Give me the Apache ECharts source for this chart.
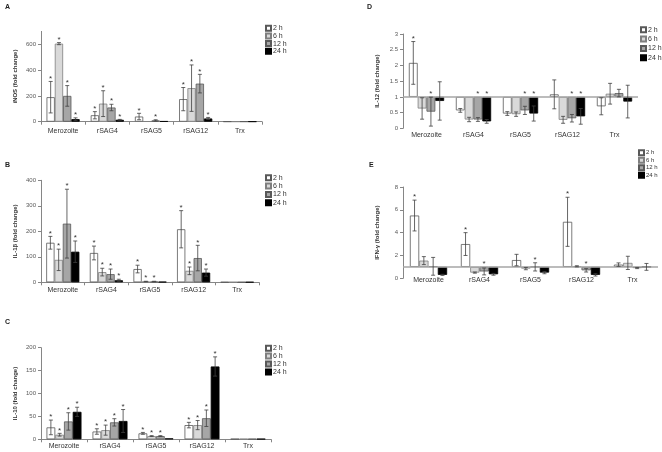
<!DOCTYPE html>
<html><head><meta charset="utf-8">
<script src="https://cdn.jsdelivr.net/npm/echarts@6/dist/echarts.min.js"></script>
<style>html,body{margin:0;padding:0;background:#fff}#c{width:662px;height:452px}</style>
</head><body><div id="c"></div>
<script>
const categories = ['Merozoite', 'rSAG4', 'rSAG5', 'rSAG12', 'Trx'];
const timeLabels = ['2 h', '6 h', '12 h', '24 h'];

// A: iNOS  (rows: 2 h, 6 h, 12 h, 24 h; columns: categories)
const iNOS_mean = [[190, 50, 40, 175, 1], [605, 140, 3, 260, 1], [200, 110, 10, 295, 1], [20, 15, 4, 25, 1]];
const iNOS_sd   = [[122, 28, 25, 90, 0], [8, 100, 0, 180, 0], [80, 25, 5, 72, 0], [10, 3, 0, 8, 0]];
const iNOS_star = [[1, 1, 1, 1, 0], [1, 1, 0, 1, 0], [1, 1, 1, 1, 0], [1, 1, 0, 1, 0]];

// B: IL-1β
const IL1b_mean = [[155, 115, 52, 208, 1], [88, 40, 3, 45, 1], [230, 32, 3, 95, 1], [120, 8, 2, 38, 1]];
const IL1b_sd   = [[25, 27, 15, 73, 0], [42, 15, 1, 15, 0], [135, 20, 1, 50, 0], [42, 4, 0, 14, 0]];
const IL1b_star = [[1, 1, 1, 1, 0], [1, 1, 1, 1, 0], [1, 1, 1, 1, 0], [1, 1, 0, 1, 0]];

// C: IL-10
const IL10_mean = [[26, 17, 13, 31, 1], [10, 20, 7, 31, 1], [39, 37, 7, 46, 1], [60, 40, 2, 159, 1]];
const IL10_sd   = [[16, 6, 2, 6, 0], [3, 11, 1, 10, 0], [19, 8, 1, 18, 0], [10, 25, 0, 21, 0]];
const IL10_star = [[1, 1, 1, 1, 0], [1, 1, 1, 1, 0], [1, 1, 1, 1, 0], [1, 1, 0, 1, 0]];

// D: IL-12
const IL12_mean = [[2.08, 0.57, 0.47, 1.08, 0.70], [0.63, 0.28, 0.45, 0.27, 1.10], [0.53, 0.28, 0.57, 0.32, 1.12], [0.87, 0.22, 0.47, 0.38, 0.85]];
const IL12_sd   = [[0.68, 0.06, 0.06, 0.46, 0.27], [0.34, 0.07, 0.07, 0.11, 0.33], [0.46, 0.06, 0.13, 0.12, 0.12], [0.61, 0.06, 0.24, 0.25, 0.52]];
const IL12_star = [[1, 0, 0, 0, 0], [0, 0, 0, 0, 0], [1, 1, 1, 1, 0], [0, 1, 1, 1, 0]];

// E: IFN-γ
const IFNg_mean = [[5.5, 3.0, 1.6, 4.95, 1.2], [1.55, 0.5, 0.85, 1.05, 1.35], [1.05, 0.6, 1.0, 0.7, 0.9], [0.3, 0.35, 0.5, 0.3, 1.0]];
const IFNg_sd   = [[1.35, 1.0, 0.5, 2.15, 0.15], [0.35, 0.05, 0.1, 0.05, 0.58], [0.78, 0.3, 0.36, 0.15, 0.05], [0.05, 0.08, 0.1, 0.1, 0.3]];
const IFNg_star = [[1, 1, 0, 1, 0], [0, 0, 0, 0, 0], [0, 1, 1, 1, 0], [0, 0, 0, 0, 0]];

const FONT = 'Liberation Sans';
const barStyles = [
  {color: '#ffffff', borderColor: '#595959', borderWidth: 0.8},
  {color: '#d9d9d9', borderColor: '#7f7f7f', borderWidth: 0.8},
  {color: '#a6a6a6', borderColor: '#595959', borderWidth: 0.8},
  {color: '#000000', borderColor: '#000000', borderWidth: 0.8}
];

const panels = [
  {letter: 'A', lx: 5, ly: 4, title: 'iNOS (fold change)', mean: iNOS_mean, sd: iNOS_sd, star: iNOS_star, base: 0, max: 700, interval: 200, showMax: false,
   grid: {left: 41, top: 31.4, width: 221, height: 90.3}, gap: 0.25, catMargin: 5.5, leg: {left: 265, top: 24.7, gap: 0.7, lh: 6, fs: 7}},
  {letter: 'B', lx: 5, ly: 162, title: 'IL-1β (fold change)', mean: IL1b_mean, sd: IL1b_sd, star: IL1b_star, base: 0, max: 400, interval: 100, showMax: true,
   grid: {left: 41, top: 180.3, width: 218, height: 102}, gap: 0.24, catMargin: 4.5, leg: {left: 265, top: 174.3, gap: 1.3, lh: 6, fs: 7}},
  {letter: 'C', lx: 5, ly: 319, title: 'IL-10 (fold change)', mean: IL10_mean, sd: IL10_sd, star: IL10_star, base: 0, max: 200, interval: 50, showMax: true,
   grid: {left: 41, top: 347.7, width: 230, height: 91.6}, gap: 0.24, catMargin: 3.5, leg: {left: 265, top: 344.7, gap: 0.9, lh: 6, fs: 7}},
  {letter: 'D', lx: 367, ly: 4, title: 'IL-12 (fold change)', mean: IL12_mean, sd: IL12_sd, star: IL12_star, base: 1, max: 3, interval: 0.5, showMax: true,
   grid: {left: 403, top: 34, width: 235, height: 94.3}, gap: 0.25, catMargin: 3, leg: {left: 640, top: 26.3, gap: 2.3, lh: 6, fs: 7}},
  {letter: 'E', lx: 369, ly: 162, title: 'IFN-γ (fold change)', mean: IFNg_mean, sd: IFNg_sd, star: IFNg_star, base: 1, max: 8, interval: 2, showMax: true,
   grid: {left: 403, top: 187, width: 255, height: 91.3}, gap: 0.27, catMargin: -1.5, leg: {left: 638, top: 149.2, gap: 0.5, lh: 5, fs: 6}}
];

const grids = [], xAxes = [], yAxes = [], series = [], legends = [], graphics = [];
const axisColor = '#868686';

panels.forEach((p, pi) => {
  grids.push(Object.assign({containLabel: false}, p.grid));
  xAxes.push({
    type: 'category', gridIndex: pi, data: categories,
    axisLine: {show: p.base === 0, lineStyle: {color: axisColor, width: 1}},
    axisTick: {show: p.base === 0, length: 3, lineStyle: {color: axisColor}},
    axisLabel: {fontSize: 7, fontFamily: FONT, color: '#333', margin: p.catMargin, interval: 0},
    splitLine: {show: false}
  });
  yAxes.push({
    type: 'value', gridIndex: pi, min: 0, max: p.max, interval: p.interval,
    splitLine: {show: false},
    axisLine: {show: true, lineStyle: {color: axisColor, width: 1}},
    axisTick: {show: true, length: 3, lineStyle: {color: axisColor}},
    axisLabel: {fontSize: 6, fontFamily: FONT, color: '#595959', margin: 5, showMaxLabel: p.showMax},
    name: p.title, nameLocation: 'middle', nameRotate: 90, nameGap: 23,
    nameTextStyle: {fontSize: 6, fontFamily: FONT, fontWeight: 'bold', color: '#333'}
  });

  for (let t = 0; t < 4; t++) {
    if (p.base === 0) {
      series.push({
        type: 'bar', name: timeLabels[t], xAxisIndex: pi, yAxisIndex: pi,
        data: p.mean[t], itemStyle: barStyles[t],
        barGap: '0%', barCategoryGap: (p.gap * 100) + '%', silent: true
      });
    } else {
      series.push({
        type: 'bar', name: '_base' + pi + '_' + t, xAxisIndex: pi, yAxisIndex: pi, stack: p.letter + t,
        data: p.mean[t].map(v => Math.min(v, p.base)),
        itemStyle: {color: 'rgba(0,0,0,0)'},
        barGap: '0%', barCategoryGap: (p.gap * 100) + '%', silent: true
      });
      const s = {
        type: 'bar', name: timeLabels[t], xAxisIndex: pi, yAxisIndex: pi, stack: p.letter + t,
        data: p.mean[t].map(v => Math.abs(v - p.base)),
        itemStyle: barStyles[t],
        barGap: '0%', barCategoryGap: (p.gap * 100) + '%', silent: true
      };
      if (t === 0) {
        s.markLine = {silent: true, symbol: 'none', label: {show: false},
          lineStyle: {color: '#a6a6a6', width: 1.5, type: 'solid'}, data: [{yAxis: p.base}]};
      }
      series.push(s);
    }
  }

  const errData = [];
  const starData = [];
  for (let t = 0; t < 4; t++) {
    for (let c = 0; c < categories.length; c++) {
      const m = p.mean[t][c], sd = p.sd[t][c];
      if (sd > 0) errData.push([c, t, Math.max(0, m - sd), m + sd]);
      if (p.star[t][c]) starData.push([c, t, Math.max(m + sd, p.base)]);
    }
  }
  const gapFrac = p.gap;
  series.push({
    type: 'custom', xAxisIndex: pi, yAxisIndex: pi, silent: true, z: 5,
    data: errData, encode: {x: 0, y: [2, 3]},
    renderItem: function (params, api) {
      const c = api.value(0), t = api.value(1);
      const lo = api.coord([c, api.value(2)]);
      const hi = api.coord([c, api.value(3)]);
      const catW = api.size([1, 0])[0];
      const bw = catW * (1 - gapFrac) / 4;
      const x = lo[0] + (t - 1.5) * bw;
      const st = {stroke: '#404040', lineWidth: 0.8};
      return {type: 'group', children: [
        {type: 'line', shape: {x1: x, y1: lo[1], x2: x, y2: hi[1]}, style: st},
        {type: 'line', shape: {x1: x - 2, y1: hi[1], x2: x + 2, y2: hi[1]}, style: st},
        {type: 'line', shape: {x1: x - 2, y1: lo[1], x2: x + 2, y2: lo[1]}, style: st}
      ]};
    }
  });
  series.push({
    type: 'custom', xAxisIndex: pi, yAxisIndex: pi, silent: true, z: 6,
    data: starData, encode: {x: 0, y: 2},
    renderItem: function (params, api) {
      const c = api.value(0), t = api.value(1);
      const pt = api.coord([c, api.value(2)]);
      const catW = api.size([1, 0])[0];
      const bw = catW * (1 - gapFrac) / 4;
      const x = pt[0] + (t - 1.5) * bw;
      return {type: 'text', x: x, y: pt[1] - 3,
        style: {text: '*', fontSize: 8, fontFamily: FONT, fill: '#333', align: 'center', verticalAlign: 'middle'}};
    }
  });

  legends.push({
    orient: 'vertical', left: p.leg.left, top: p.leg.top, padding: 0,
    itemWidth: 5, itemHeight: 5, itemGap: p.leg.gap, icon: 'rect', selectedMode: false,
    data: timeLabels,
    textStyle: {fontSize: p.leg.fs, fontFamily: FONT, color: '#333', lineHeight: p.leg.lh, padding: [0, 0, 0, -3]}
  });

  graphics.push({type: 'text', left: p.lx, top: p.ly,
    style: {text: p.letter, font: 'bold 7px "' + FONT + '"', fill: '#222'}});
});

const chart = echarts.init(document.getElementById('c'), null, {renderer: 'canvas'});
chart.setOption({
  animation: false,
  backgroundColor: '#fff',
  grid: grids, xAxis: xAxes, yAxis: yAxes, series: series, legend: legends, graphic: graphics
});
</script>
</body></html>
